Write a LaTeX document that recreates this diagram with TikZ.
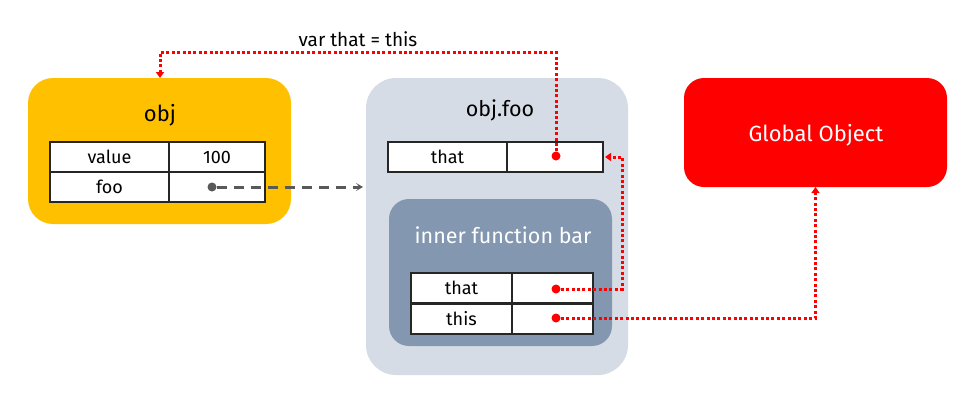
\documentclass[tikz,border=0pt]{standalone}
\usepackage{fontspec}
\setmainfont{Fira Sans}
\usetikzlibrary{arrows.meta}
\definecolor{objc}{HTML}{FFC000}
\definecolor{fooc}{HTML}{D6DCE5}
\definecolor{innerc}{HTML}{8497B0}
\definecolor{linec}{HTML}{262626}
\definecolor{linkc}{HTML}{595959}
\newcommand{\fs}[1]{\fontsize{#1}{#1}\selectfont}
% one row of a table: name, x, y, key width, value width, key, value
\newcommand{\row}[7]{
	\node[cell, minimum width=#4, anchor=north west] (#1k) at (#2,#3) {#6};
	\node[cell, minimum width=#5, anchor=north west] (#1v) at (#1k.north east) {#7};
	}
\begin{document}
\begin{tikzpicture}[
      x=1pt, y=-1pt, %pixel units, y downwards
      box/.style={anchor=north west, inner sep=0, outer sep=0},
      title/.style={font=\fs{21.5}},
      cell/.style={draw=linec, line width=1.8pt, fill=white, minimum height=30, inner sep=0, outer sep=0, font=\fs{18}},
      dot/.style={circle, inner sep=0, minimum size=9},
      ref/.style={red, line width=3pt, dash pattern=on 3pt off 2.4pt, -{Triangle[length=6pt,width=8pt]}},
      link/.style={linkc, line width=3pt, dash pattern=on 10pt off 7pt, -{Stealth[length=7pt,width=8pt,inset=3.5pt]}, shorten >=3pt}
    ]
    \useasboundingbox (0,0) rectangle (972,410);
    % Draw the boxes
    \node[box, fill=objc, rounded corners=25, minimum width=263, minimum height=146] (obj) at (28,78) {};
    \node[box, fill=fooc, rounded corners=30, minimum width=262, minimum height=297] (foo) at (366,78) {};
    \node[box, fill=innerc, rounded corners=20, minimum width=223, minimum height=147] (bar) at (389,199) {};
    \node[box, fill=red, rounded corners=20, minimum width=263, minimum height=109] (global) at (684,78) {};
    % Titles
    \node[title, font=\fs{22}] (objt) at (160,115) {obj};
    \node[title] (foot) at (500,110) {obj.foo};
    \node[title, text=white] (bart) at (503,235) {inner function bar};
    \node[title, text=white, font=\fs{22}, text depth=0pt] (globalt) at (816,133) {Global Object};
    % Draw the tables
    \row{value}{50}{142}{119}{96}{value}{100};
    \row{foofn}{50}{172}{119}{96}{foo}{};
    \row{fthat}{388}{142}{119}{96}{that}{};
    \row{ithat}{411}{273}{101}{81}{that}{};
    \row{ithis}{411}{304}{101}{81}{this}{};
    % Dots
    \node[dot, fill=linkc] (foodot) at (212,187) {};
    \node[dot, fill=red] (fthatdot) at (556,156) {};
    \node[dot, fill=red] (ithatdot) at (556,289) {};
    \node[dot, fill=red] (ithisdot) at (556,318) {};
    % Draw the references
    \coordinate (bend) at (160,52);
    \coordinate (back) at (622,289);
    \draw[link] (foodot) -- (foodot -| foo.west);
    \draw[ref] (fthatdot) |- node[above, pos=0.75, text=black, font=\fs{19}] (var) {var that = this} (bend) -- (bend |- obj.north);
    \draw[ref, shorten >=2pt] (ithatdot) -- (back) |- (fthatv.east);
    \draw[ref] (ithisdot) -| (global.south);
\end{tikzpicture}
\end{document}
